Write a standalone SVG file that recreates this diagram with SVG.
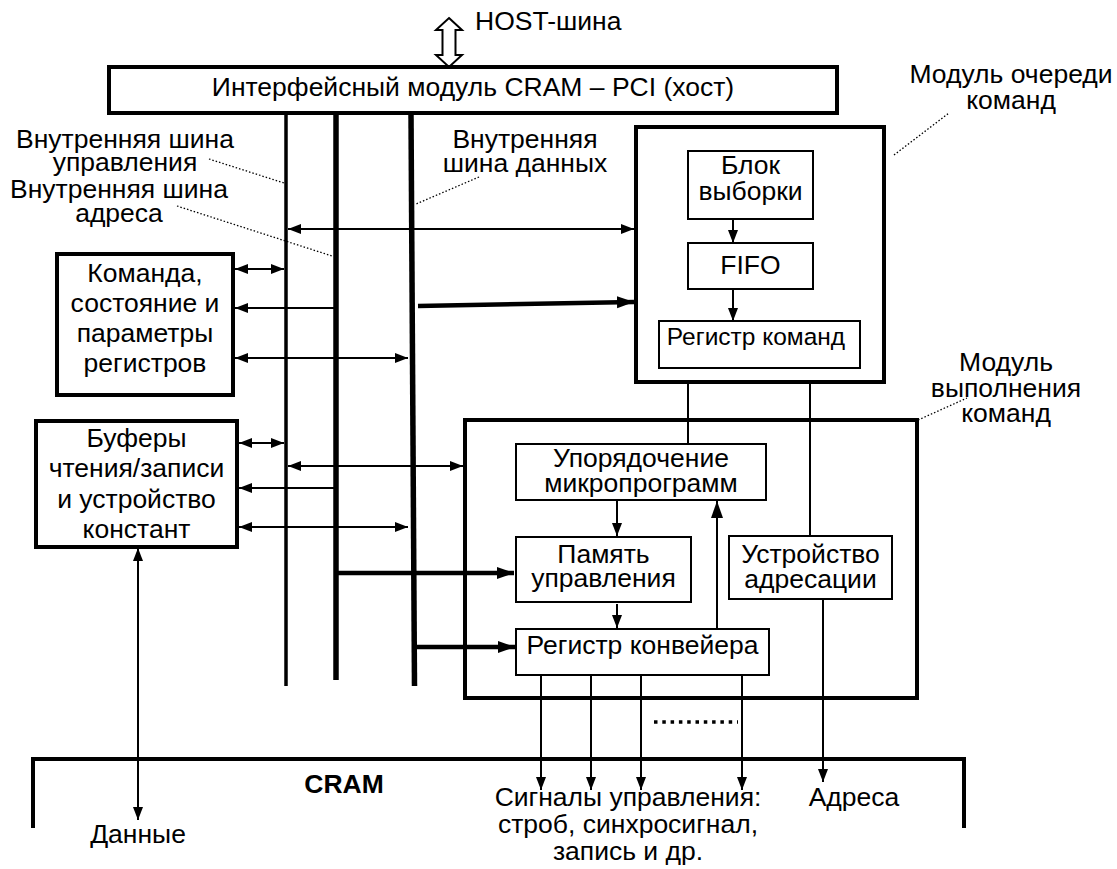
<svg xmlns="http://www.w3.org/2000/svg" width="1117" height="869" viewBox="0 0 1117 869">
<style>
text{font-family:"Liberation Sans",Arial,sans-serif;font-size:26.5px;fill:#000}
.c{text-anchor:middle}
.q{font-size:24.5px}
.box{fill:#fff;stroke:#000;stroke-width:4}
.ibox{fill:#fff;stroke:#000;stroke-width:2}
.ln{stroke:#000;stroke-width:2;fill:none}
.tk{stroke:#000;stroke-width:4.5;fill:none}
.dot{stroke:#000;stroke-width:1.3;stroke-dasharray:1.5 2;fill:none}
</style>
<defs>
<marker id="a" markerUnits="userSpaceOnUse" markerWidth="14" markerHeight="10" refX="13" refY="5" orient="auto-start-reverse"><path d="M0,0L13,5L0,10z" fill="#000"/></marker>
<marker id="b" markerUnits="userSpaceOnUse" markerWidth="18" markerHeight="14" refX="17" refY="7" orient="auto-start-reverse"><path d="M0,1L17,7L0,13z" fill="#000"/></marker>
</defs>

<g id="host">
<polygon points="449,18 462,30 455.5,30 455.5,55 462,55 449,67 436,55 442.5,55 442.5,30 436,30" fill="#fff" stroke="#000" stroke-width="2"/>
<text x="475" y="30">HOST-шина</text>
</g>

<g id="iface">
<rect class="box" x="109" y="67" width="728" height="46"/>
<text class="c" x="473" y="96">Интерфейсный модуль CRAM – PCI (хост)</text>
</g>

<g id="buses">
<line x1="286" y1="113" x2="286" y2="686" stroke="#000" stroke-width="3.5"/>
<line x1="336" y1="113" x2="336" y2="680" stroke="#000" stroke-width="5.5"/>
<line x1="411" y1="113" x2="414.5" y2="686" stroke="#000" stroke-width="5.5"/>
</g>

<g id="labels">
<text class="c" x="125" y="148">Внутренняя шина</text>
<text class="c" x="125" y="171">управления</text>
<text class="c" x="119" y="198">Внутренняя шина</text>
<text class="c" x="119" y="222">адреса</text>
<text class="c" x="525" y="148">Внутренняя</text>
<text class="c" x="525" y="172">шина данных</text>
<text class="c" x="1011" y="83">Модуль очереди</text>
<text class="c" x="1011" y="109">команд</text>
<text class="c" x="1006" y="371">Модуль</text>
<text class="c" x="1006" y="397">выполнения</text>
<text class="c" x="1006" y="422">команд</text>
<path class="dot" d="M209,159L284,183M177,206L332,256M479,177L416,204M894,155L949,113M867,443L967,398"/>
</g>

<g id="cmd">
<rect class="box" x="57" y="254" width="176" height="141"/>
<text class="c" x="145" y="282">Команда,</text>
<text class="c" x="145" y="312">состояние и</text>
<text class="c" x="145" y="342">параметры</text>
<text class="c" x="145" y="372">регистров</text>
</g>

<g id="buf">
<rect class="box" x="36" y="421" width="201" height="126"/>
<text class="c" x="136.5" y="447">Буферы</text>
<text class="c" x="136.5" y="477">чтения/записи</text>
<text class="c" x="136.5" y="508">и устройство</text>
<text class="c" x="136.5" y="538">констант</text>
</g>

<g id="queue">
<rect class="box" x="636" y="127" width="248" height="255"/>
<rect class="ibox" x="688" y="151" width="125" height="68"/>
<text class="c" x="750.5" y="174">Блок</text>
<text class="c" x="750.5" y="200">выборки</text>
<rect class="ibox" x="688" y="243" width="125" height="46"/>
<text class="c" x="750.5" y="274">FIFO</text>
<rect class="ibox" x="659" y="321" width="201" height="47"/>
<text class="c q" x="756" y="345">Регистр команд</text>
</g>

<g id="exec">
<rect class="box" x="465" y="420" width="452" height="278"/>
</g>

<g id="seq">
<rect class="ibox" x="516" y="444" width="250" height="56"/>
<text class="c" x="641" y="467">Упорядочение</text>
<text class="c" x="641" y="492">микропрограмм</text>
</g>

<g id="mem">
<rect class="ibox" x="516" y="537" width="175" height="65"/>
<text class="c" x="603.5" y="563">Память</text>
<text class="c" x="603.5" y="587">управления</text>
</g>

<g id="pipe">
<rect class="ibox" x="516" y="629" width="253" height="46"/>
<text class="c" x="642.5" y="654">Регистр конвейера</text>
</g>

<g id="addr">
<rect class="ibox" x="729" y="536" width="163" height="63"/>
<text class="c" x="810.5" y="563">Устройство</text>
<text class="c" x="810.5" y="588">адресации</text>
</g>

<g id="cram">
<path d="M33,828V759H964V828" fill="none" stroke="#000" stroke-width="4"/>
<text class="c" x="344" y="793" font-weight="bold" font-size="25">CRAM</text>
<text class="c" x="138" y="843">Данные</text>
<text class="c" x="628" y="806">Сигналы управления:</text>
<text class="c" x="628" y="833">строб, синхросигнал,</text>
<text class="c" x="628" y="860">запись и др.</text>
<text class="c" x="854" y="806">Адреса</text>
</g>

<g id="connectors">
<line class="ln" x1="288" y1="229" x2="634" y2="229" marker-start="url(#a)" marker-end="url(#a)"/>
<line class="ln" x1="235" y1="269" x2="284" y2="269" marker-start="url(#a)" marker-end="url(#a)"/>
<line class="ln" x1="334" y1="308" x2="235" y2="308" marker-end="url(#a)"/>
<line class="ln" x1="235" y1="358" x2="408" y2="358" marker-start="url(#a)" marker-end="url(#a)"/>
<line class="tk" x1="418" y1="306" x2="634" y2="302" marker-end="url(#b)"/>
<line class="ln" x1="239" y1="443" x2="284" y2="443" marker-start="url(#a)" marker-end="url(#a)"/>
<line class="ln" x1="288" y1="466" x2="463" y2="466" marker-start="url(#a)" marker-end="url(#a)"/>
<line class="ln" x1="334" y1="488" x2="239" y2="488" marker-end="url(#a)"/>
<line class="ln" x1="239" y1="527" x2="408" y2="527" marker-start="url(#a)" marker-end="url(#a)"/>
<line class="tk" x1="338" y1="573" x2="514" y2="573" marker-end="url(#b)"/>
<line class="tk" x1="416" y1="647" x2="515" y2="647" marker-end="url(#b)"/>
<line class="ln" x1="733" y1="219" x2="733" y2="243" marker-end="url(#a)"/>
<line class="ln" x1="733" y1="289" x2="733" y2="321" marker-end="url(#a)"/>
<line class="ln" x1="688" y1="382" x2="688" y2="444"/>
<line class="ln" x1="810" y1="382" x2="810" y2="536"/>
<line class="ln" x1="617" y1="500" x2="617" y2="536" marker-end="url(#a)"/>
<line class="ln" x1="617" y1="604" x2="617" y2="628" marker-end="url(#a)"/>
<line class="ln" x1="717" y1="629" x2="717" y2="501" marker-end="url(#b)"/>
<line class="ln" x1="541" y1="675" x2="541" y2="790" marker-end="url(#a)"/>
<line class="ln" x1="591" y1="675" x2="591" y2="790" marker-end="url(#a)"/>
<line class="ln" x1="641" y1="675" x2="641" y2="790" marker-end="url(#a)"/>
<line class="ln" x1="742" y1="675" x2="742" y2="790" marker-end="url(#a)"/>
<line class="ln" x1="823" y1="599" x2="823" y2="782" marker-end="url(#a)"/>
<line class="ln" x1="138" y1="548" x2="138" y2="820" marker-start="url(#a)" marker-end="url(#a)"/>
<line x1="654" y1="722" x2="738" y2="722" stroke="#000" stroke-width="3.5" stroke-dasharray="3.5 4.8"/>
</g>
</svg>
